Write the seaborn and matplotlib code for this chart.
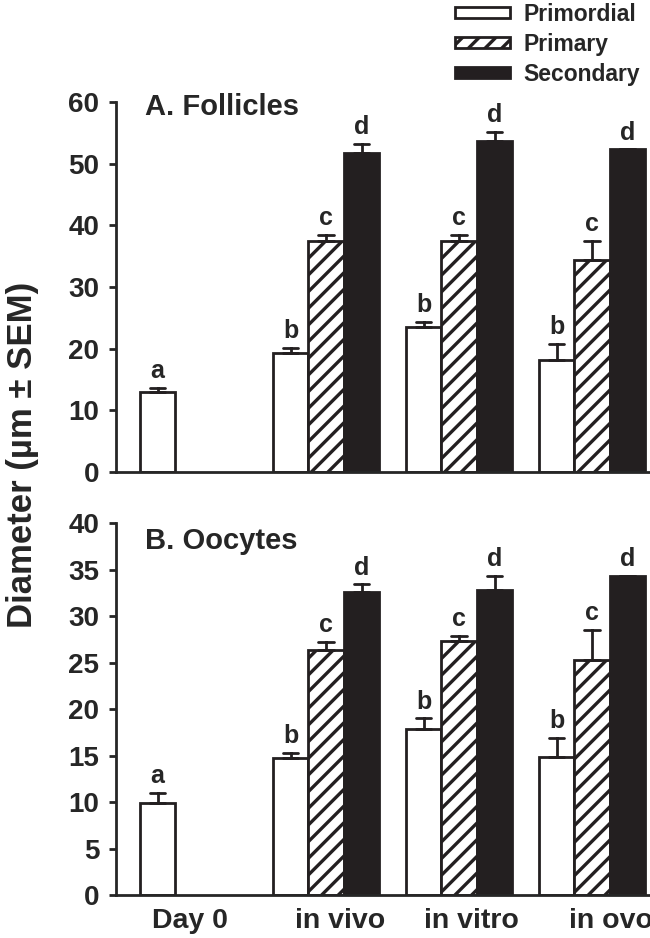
import pandas as pd
import matplotlib
matplotlib.use("Agg")
import matplotlib.pyplot as plt
import matplotlib.transforms as mtransforms
import seaborn as sns

# values (mean and SEM)
stages = ["Day 0", "in vivo", "in vitro", "in ovo"]
types = ["Primordial", "Primary", "Secondary"]

fol_primordial = [13.0, 19.3, 23.5, 18.1]
fol_primordial_sem = [0.6, 0.8, 0.9, 2.7]
fol_primary = [37.4, 37.4, 34.4]
fol_primary_sem = [1.0, 1.1, 3.1]
fol_secondary = [51.8, 53.6, 52.3]
fol_secondary_sem = [1.4, 1.5, 0.0]

ooc_primordial = [9.9, 14.7, 17.8, 14.8]
ooc_primordial_sem = [1.1, 0.6, 1.2, 2.1]
ooc_primary = [26.3, 27.3, 25.3]
ooc_primary_sem = [0.9, 0.6, 3.2]
ooc_secondary = [32.6, 32.8, 34.3]
ooc_secondary_sem = [0.8, 1.5, 0.0]

letters = {"Primordial": ["a", "b", "b", "b"],
           "Primary": ["c", "c", "c"],
           "Secondary": ["d", "d", "d"]}


def make_table(prim, prim_sem, pri, pri_sem, sec, sec_sem):
    # two rows per bar (mean - sem, mean + sem) so seaborn gets the mean
    # and the upper error end from its own aggregation
    rows = []
    series = [("Primordial", stages, prim, prim_sem),
              ("Primary", stages[1:], pri, pri_sem),
              ("Secondary", stages[1:], sec, sec_sem)]
    for name, st, vals, sems in series:
        for s, v, e in zip(st, vals, sems):
            rows.append({"stage": s, "type": name, "diam": v - e, "sem": e})
            rows.append({"stage": s, "type": name, "diam": v + e, "sem": e})
    return pd.DataFrame(rows)


sns.set_style("ticks")
plt.rcParams["font.family"] = ["Liberation Sans", "DejaVu Sans"]
plt.rcParams["font.weight"] = "bold"
plt.rcParams["hatch.linewidth"] = 2.4
plt.rcParams["axes.linewidth"] = 2.0

palette = {"Primordial": "white", "Primary": "white", "Secondary": "#231f20"}

fig = plt.figure(figsize=(6.5, 9.38), dpi=100)
ax_top = fig.add_axes([0.1785, 0.4968, 0.855, 0.3945])
ax_bot = fig.add_axes([0.1785, 0.0458, 0.855, 0.3966])


def draw_panel(ax, df, sems, ymax, step, title, title_y):
    sns.barplot(data=df, x="stage", y="diam", hue="type", order=stages,
                hue_order=types, palette=palette, saturation=1,
                errorbar=lambda x: (x.mean(), x.max()), capsize=0.35,
                err_kws={"color": "#231f20", "linewidth": 2.0},
                edgecolor="#231f20", linewidth=2.0, legend=False, ax=ax)
    for p in ax.containers[1].patches:
        p.set_hatch("//")
    for cont, name in zip(ax.containers, types):
        for p, lab, e in zip(cont.patches, letters[name], sems[name]):
            cx = p.get_x() + p.get_width() / 2
            ax.annotate(lab, (cx, p.get_height() + e), xytext=(0, 7),
                        textcoords="offset points", ha="center",
                        va="baseline", fontsize=18, fontweight="bold")
    ax.set_ylim(0, ymax)
    ax.set_yticks(range(0, ymax + 1, step))
    ax.set_xlim(-0.58, 3.6)
    ax.set_xlabel("")
    ax.set_ylabel("")
    sns.despine(ax=ax)
    ax.tick_params(axis="y", length=5, width=2, pad=7, labelsize=20)
    ax.tick_params(axis="x", length=0, pad=9, labelsize=20.5)
    ax.text(0.052, title_y, title, transform=ax.transAxes, ha="left",
            va="top", fontsize=21, fontweight="bold")


fol = make_table(fol_primordial, fol_primordial_sem, fol_primary,
                 fol_primary_sem, fol_secondary, fol_secondary_sem)
ooc = make_table(ooc_primordial, ooc_primordial_sem, ooc_primary,
                 ooc_primary_sem, ooc_secondary, ooc_secondary_sem)

draw_panel(ax_top, fol, {"Primordial": fol_primordial_sem,
                         "Primary": fol_primary_sem,
                         "Secondary": fol_secondary_sem},
           60, 10, "A. Follicles", 1.024)
ax_top.set_xticklabels([])

draw_panel(ax_bot, ooc, {"Primordial": ooc_primordial_sem,
                         "Primary": ooc_primary_sem,
                         "Secondary": ooc_secondary_sem},
           40, 5, "B. Oocytes", 0.989)

# category labels in the original sit a little right of the group centres
# (the last one runs off the right edge, as in the source figure)
for lab, dx in zip(ax_bot.get_xticklabels(), [-2, 10, 9, 14]):
    shift = mtransforms.ScaledTranslation(dx / 72, 0, fig.dpi_scale_trans)
    lab.set_transform(lab.get_transform() + shift)

fig.text(0.034, 0.515, "Diameter (\u00b5m \u00b1 SEM)", rotation=90,
         ha="center", va="center", fontsize=25, fontweight="bold")

handles = [c.patches[0] for c in ax_top.containers]
fig.legend(handles, types, loc="upper left", bbox_to_anchor=(0.70, 0.997),
           frameon=False, fontsize=16.5, handlelength=2.4, handleheight=0.4,
           handletextpad=0.6, labelspacing=0.3, borderpad=0,
           borderaxespad=0)

fig.savefig("out.png", dpi=100)
